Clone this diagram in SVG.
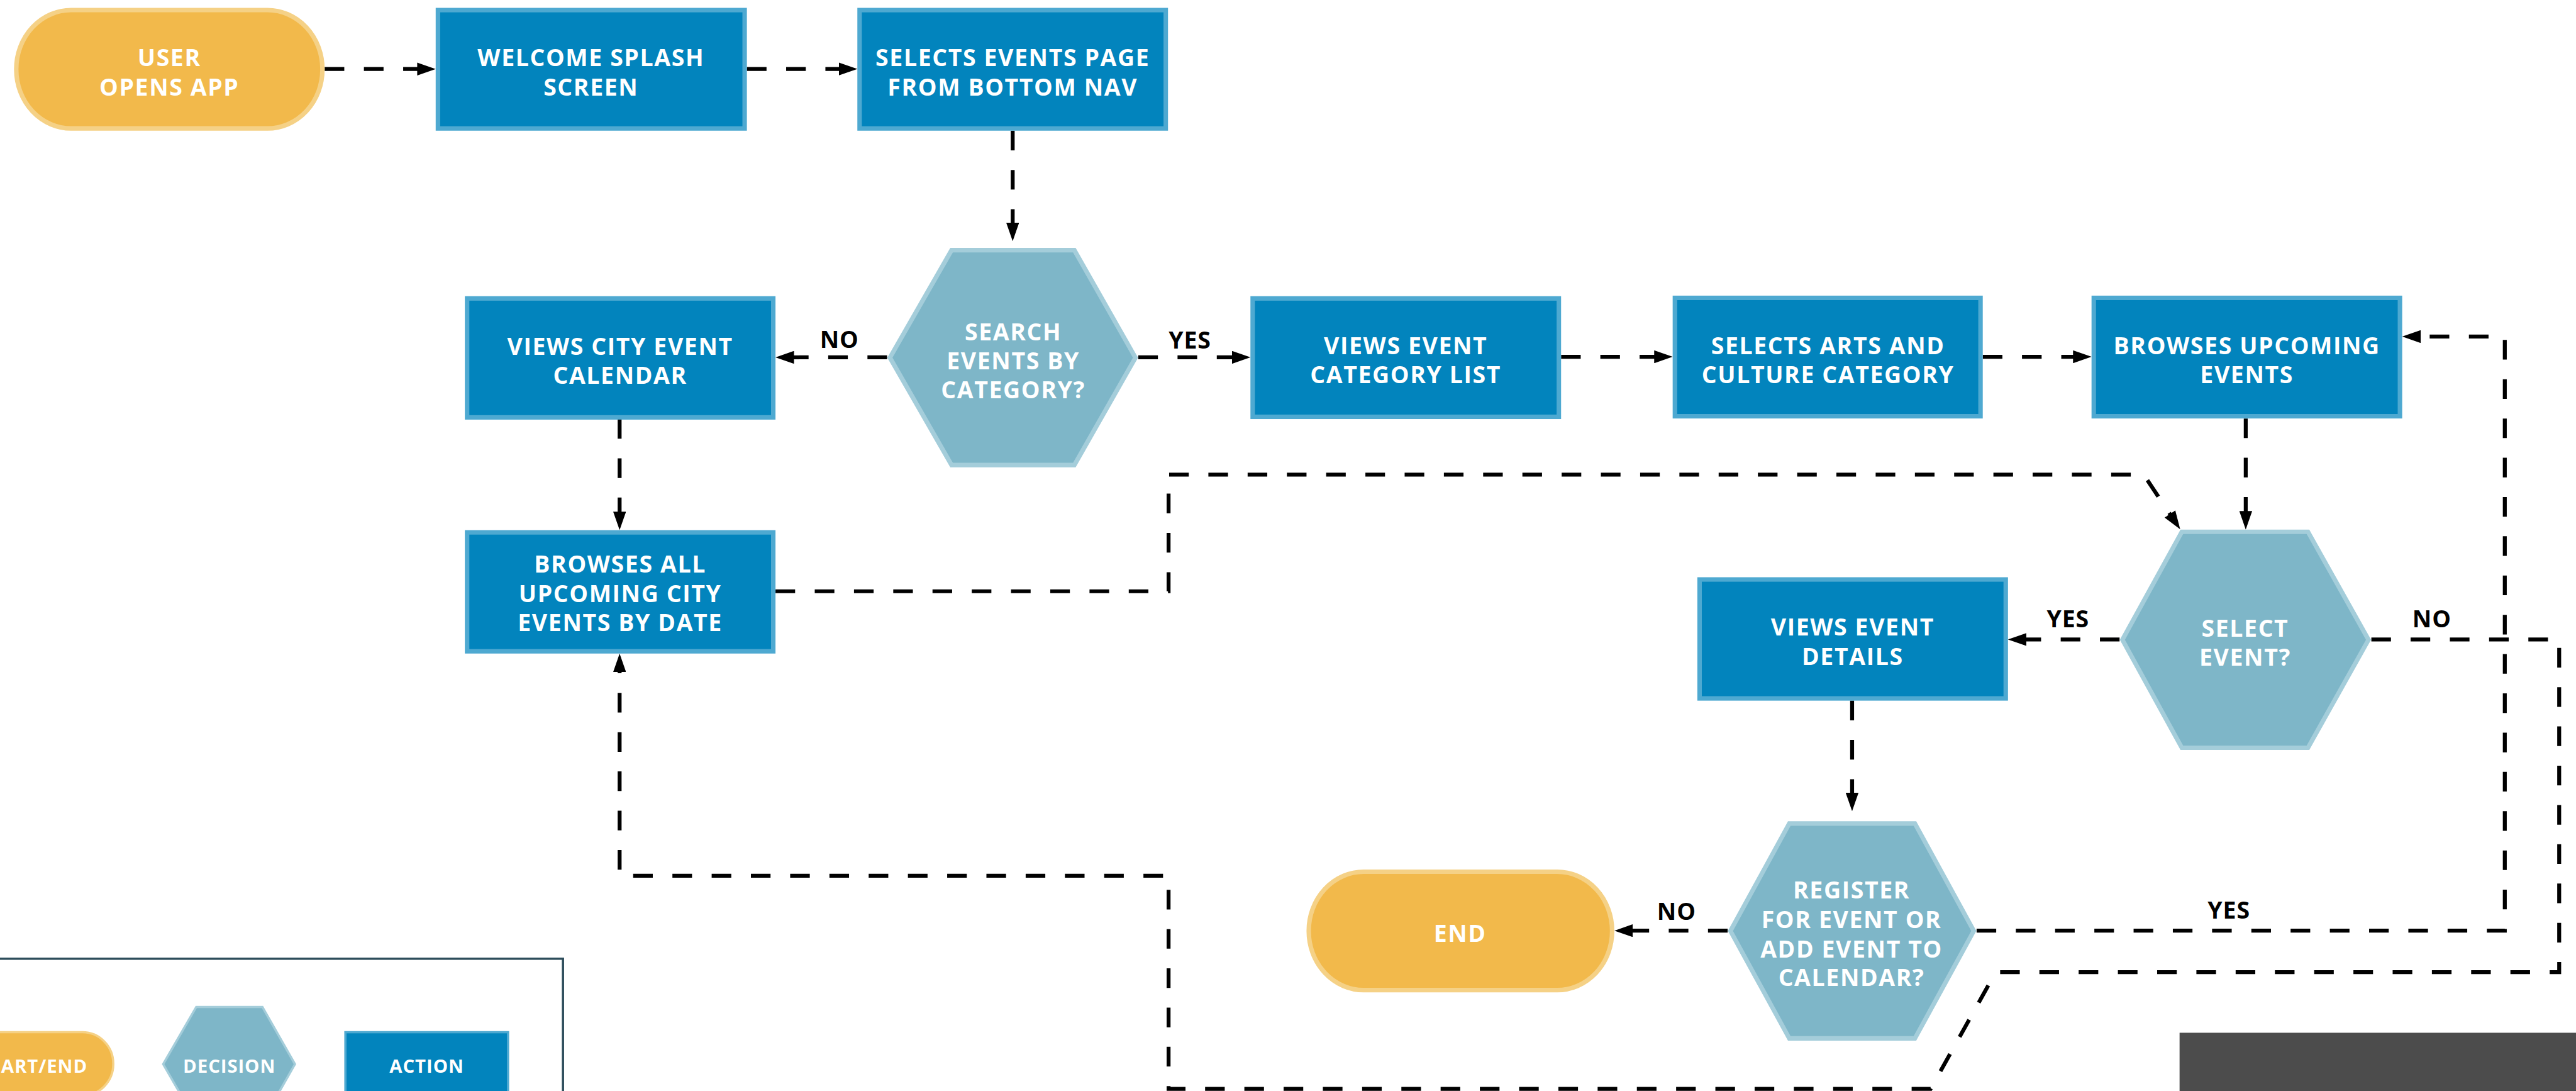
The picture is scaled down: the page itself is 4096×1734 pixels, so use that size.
<svg xmlns="http://www.w3.org/2000/svg" width="4096" height="1734" viewBox="0 0 4096 1734">
<defs>
<style>
.act{fill:#0284BD;stroke:#4EA9D1;stroke-width:8}
.dec{fill:#7EB6C8;stroke:#A4CDDA;stroke-width:8}
.se{fill:#F2B94B;stroke:#F5D186;stroke-width:8}
.act-s{fill:#0284BD;stroke:#4EA9D1;stroke-width:4}
.dec-s{fill:#7EB6C8;stroke:#A4CDDA;stroke-width:4}
.se-s{fill:#F2B94B;stroke:#F5D186;stroke-width:4}
.t{font-family:"Open Sans","Liberation Sans",sans-serif;font-weight:700;font-size:42px;fill:#FFFFFF;text-anchor:middle;letter-spacing:1.8px}
.ts{font-family:"Open Sans","Liberation Sans",sans-serif;font-weight:700;font-size:33px;fill:#FFFFFF;text-anchor:middle;letter-spacing:1px}
.lb{font-family:"Open Sans","Liberation Sans",sans-serif;font-weight:700;font-size:42px;fill:#000000;text-anchor:middle;letter-spacing:1px}
.c{fill:none;stroke:#000000;stroke-width:7;stroke-dasharray:35 35}
.ca{fill:none;stroke:#000000;stroke-width:7;stroke-dasharray:35 35;marker-end:url(#ah)}
</style>
<marker id="ah" markerUnits="userSpaceOnUse" markerWidth="33" markerHeight="23" viewBox="0 0 33 23" refX="13" refY="11.5" orient="auto">
<path d="M0,0 L33,11.5 L0,23 Z" fill="#000000"/>
</marker>
</defs>
<rect x="0" y="0" width="4096" height="1734" fill="#FFFFFF"/>
<g transform="scale(0.891602)">

<g id="connectors">
<path class="ca" d="M579 123 H757"/>
<path class="ca" d="M1332 123 H1509"/>
<path class="ca" d="M1806 233 V410"/>
<path class="ca" d="M1582 637 H1403"/>
<path class="ca" d="M2030 637 H2210"/>
<path class="ca" d="M2784 636 H2963"/>
<path class="ca" d="M3536 636 H3710"/>
<path class="ca" d="M4005 746 V924"/>
<path class="ca" d="M1105 747 V925"/>
<path class="ca" d="M1383 1054 H2084 V846 H3823 L3877 927"/>
<path class="ca" d="M3780 1140 H3601"/>
<path class="ca" d="M4229 1140 H4564 V1733 H3559 L3443 1941 H2084 V1561 H1105 V1185"/>
<path class="ca" d="M3303 1249 V1426"/>
<path class="ca" d="M3081 1659 H2899"/>
<path class="ca" d="M3525 1659 H4467 V600 H4304"/>
<text class="lb" x="1497" y="620">NO</text>
<text class="lb" x="2122" y="621">YES</text>
<text class="lb" x="3688" y="1118">YES</text>
<text class="lb" x="4337" y="1118">NO</text>
<text class="lb" x="2990" y="1640">NO</text>
<text class="lb" x="3975" y="1638">YES</text>
</g>

<g id="start">
<rect class="se" x="29" y="18" width="546" height="211" rx="98" ry="105"/>
<text class="t" x="302" y="118">USER</text>
<text class="t" x="302" y="170">OPENS APP</text>
</g>

<g id="welcome">
<rect class="act" x="781" y="18" width="547" height="211"/>
<text class="t" x="1054" y="118">WELCOME SPLASH</text>
<text class="t" x="1054" y="170">SCREEN</text>
</g>

<g id="events-page">
<rect class="act" x="1533" y="18" width="546" height="211"/>
<text class="t" x="1806" y="118">SELECTS EVENTS PAGE</text>
<text class="t" x="1806" y="170">FROM BOTTOM NAV</text>
</g>

<g id="search-decision">
<polygon class="dec" points="1697,446 1916,446 2025,637.5 1916,829 1697,829 1587,637.5"/>
<text class="t" x="1807" y="607">SEARCH</text>
<text class="t" x="1807" y="658">EVENTS BY</text>
<text class="t" x="1807" y="710">CATEGORY?</text>
</g>

<g id="city-calendar">
<rect class="act" x="833" y="532" width="546" height="212"/>
<text class="t" x="1106" y="633">VIEWS CITY EVENT</text>
<text class="t" x="1106" y="684">CALENDAR</text>
</g>

<g id="category-list">
<rect class="act" x="2234" y="532" width="546" height="211"/>
<text class="t" x="2507" y="632">VIEWS EVENT</text>
<text class="t" x="2507" y="683">CATEGORY LIST</text>
</g>

<g id="arts-category">
<rect class="act" x="2987" y="531" width="545" height="211"/>
<text class="t" x="3260" y="632">SELECTS ARTS AND</text>
<text class="t" x="3260" y="683">CULTURE CATEGORY</text>
</g>

<g id="browses-upcoming">
<rect class="act" x="3734" y="531" width="546" height="211"/>
<text class="t" x="4007" y="632">BROWSES UPCOMING</text>
<text class="t" x="4007" y="683">EVENTS</text>
</g>

<g id="browses-all">
<rect class="act" x="833" y="949" width="546" height="212"/>
<text class="t" x="1106" y="1021">BROWSES ALL</text>
<text class="t" x="1106" y="1073">UPCOMING CITY</text>
<text class="t" x="1106" y="1125">EVENTS BY DATE</text>
</g>

<g id="select-decision">
<polygon class="dec" points="3891,948 4116,948 4224,1140.5 4116,1333 3891,1333 3785,1140.5"/>
<text class="t" x="4004" y="1135">SELECT</text>
<text class="t" x="4004" y="1187">EVENT?</text>
</g>

<g id="event-details">
<rect class="act" x="3031" y="1033" width="546" height="212"/>
<text class="t" x="3304" y="1133">VIEWS EVENT</text>
<text class="t" x="3304" y="1185">DETAILS</text>
</g>

<g id="register-decision">
<polygon class="dec" points="3191,1468 3415,1468 3520,1659.5 3415,1851 3191,1851 3086,1659.5"/>
<text class="t" x="3302" y="1602">REGISTER</text>
<text class="t" x="3302" y="1654">FOR EVENT OR</text>
<text class="t" x="3302" y="1707">ADD EVENT TO</text>
<text class="t" x="3302" y="1757">CALENDAR?</text>
</g>

<g id="end">
<rect class="se" x="2334" y="1554" width="541" height="211" rx="98" ry="105"/>
<text class="t" x="2604" y="1679">END</text>
</g>

<g id="legend">
<rect x="-60" y="1709" width="1064" height="420" fill="none" stroke="#2D4D5B" stroke-width="4"/>
<rect class="se-s" x="-88" y="1840" width="290" height="113" rx="55" ry="56"/>
<text class="ts" x="156" y="1912" style="text-anchor:end">ART/END</text>
<polygon class="dec-s" points="350,1795 468,1795 526,1897 468,1999 350,1999 291,1897"/>
<text class="ts" x="409" y="1912">DECISION</text>
<rect class="act-s" x="616" y="1840" width="290" height="113"/>
<text class="ts" x="761" y="1912">ACTION</text>
</g>

<rect id="grey-panel" x="3887" y="1841" width="720" height="120" fill="#4C4C4C"/>

</g>
</svg>
